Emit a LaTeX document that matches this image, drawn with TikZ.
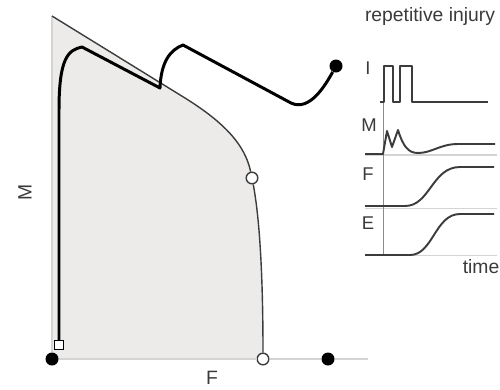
\documentclass[tikz,border=0pt]{standalone}
\usepackage{fontspec}
\setmainfont{Liberation Sans}
\definecolor{regiongray}{HTML}{ECEBEA}
\definecolor{axisgray}{HTML}{D4D4D4}
\definecolor{curvegray}{HTML}{3C3C3C}
\definecolor{textgray}{HTML}{3A3A3A}

\begin{document}
\begin{tikzpicture}[
		x=0.02cm, y=-0.02cm,
		trajectory/.style={line width=1.7pt, black, line join=round},
		boundary/.style={line width=0.8pt, curvegray},
		axisline/.style={line width=0.7pt, axisgray},
		trace/.style={line width=1.1pt, curvegray, line join=round},
		timeline/.style={line width=0.5pt, black!45},
		blackdot/.style={circle, fill=black, inner sep=0pt, minimum size=7.4pt},
		opendot/.style={circle, draw=curvegray, fill=white, line width=0.8pt,
				inner sep=0pt, minimum size=6.6pt},
		startbox/.style={rectangle, draw=black, fill=white, line width=0.7pt,
				inner sep=0pt, minimum size=5pt},
		axislabel/.style={font=\fontsize{11}{13}\selectfont, text=textgray},
		tracelabel/.style={font=\fontsize{10.5}{12}\selectfont, text=textgray},
	]
	\useasboundingbox (0,0) rectangle (500,389);

	% state space
	\coordinate (top) at (52,16);
	\coordinate (bend) at (185,98);
	\coordinate (kneept) at (252,178);
	\coordinate (fmaxpt) at (263,359);
	\coordinate (axisend) at (368,359);

	\fill[regiongray] (top) -- (bend) .. controls (225,123) and (245,145) .. (kneept)
	.. controls (260,220) and (263,280) .. (fmaxpt) -- (52,359) -- cycle;

	\node[blackdot] (origin) at (52,359) {};
	\node[opendot] (fmax) at (fmaxpt) {};
	\node[blackdot] (outdot) at (328,359) {};
	\node[opendot] (knee) at (kneept) {};
	\node[startbox] (start) at (59,345) {};
	\node[blackdot] (finish) at (336,66) {};

	\draw[axisline] (origin) -- (top);
	\draw[axisline] (origin) -- (fmax) -- (outdot) -- (axisend);

	\draw[boundary] (top) -- (bend) .. controls (225,123) and (245,145) .. (knee);
	\draw[boundary] (knee) .. controls (260,220) and (263,280) .. (fmax);

	\draw[trajectory] (start) -- (59,110) .. controls (59,58) and (68,50) .. (82,47)
	-- (160,88) .. controls (161,62) and (170,50) .. (183,45)
	-- (291,103) .. controls (310,112) and (326,84) .. (finish);

	\node[axislabel, rotate=90] (mlabel) at (25,192) {M};
	\node[axislabel] (flabel) at (212,378) {F};

	% time courses
	\node[axislabel] (title) at (430,17) {repetitive injury};

	\draw[axisline] (365,155) -- (497,155);
	\draw[axisline] (365,208.5) -- (497,208.5);
	\draw[axisline] (365,255.5) -- (497,255.5);
	\draw[timeline] (383,102) -- (383,255);

	\draw[trace] (380,102) -- (384,102) -- (384,66) -- (393,66) -- (393,102)
	-- (400,102) -- (400,66) -- (412,66) -- (412,102) -- (488,102);
	\draw[trace] (365,154) -- (383,154) -- (387,131) -- (392,147) -- (398,130)
	.. controls (403,146) and (408,153) .. (418,153)
	.. controls (432,153) and (440,144) .. (458,144) -- (495,144);
	\draw[trace] (365,206) -- (405,206) .. controls (430,206) and (432,167) .. (460,167)
	-- (494,167);
	\draw[trace] (365,255) -- (410,255) .. controls (433,255) and (435,214) .. (460,214)
	-- (494,214);

	\node[tracelabel] (ilabel) at (368,68) {I};
	\node[tracelabel] (mtrace) at (369,125) {M};
	\node[tracelabel] (ftrace) at (368,174) {F};
	\node[tracelabel] (etrace) at (368,223) {E};
	\node[axislabel] (timelabel) at (481,267) {time};
\end{tikzpicture}
\end{document}
